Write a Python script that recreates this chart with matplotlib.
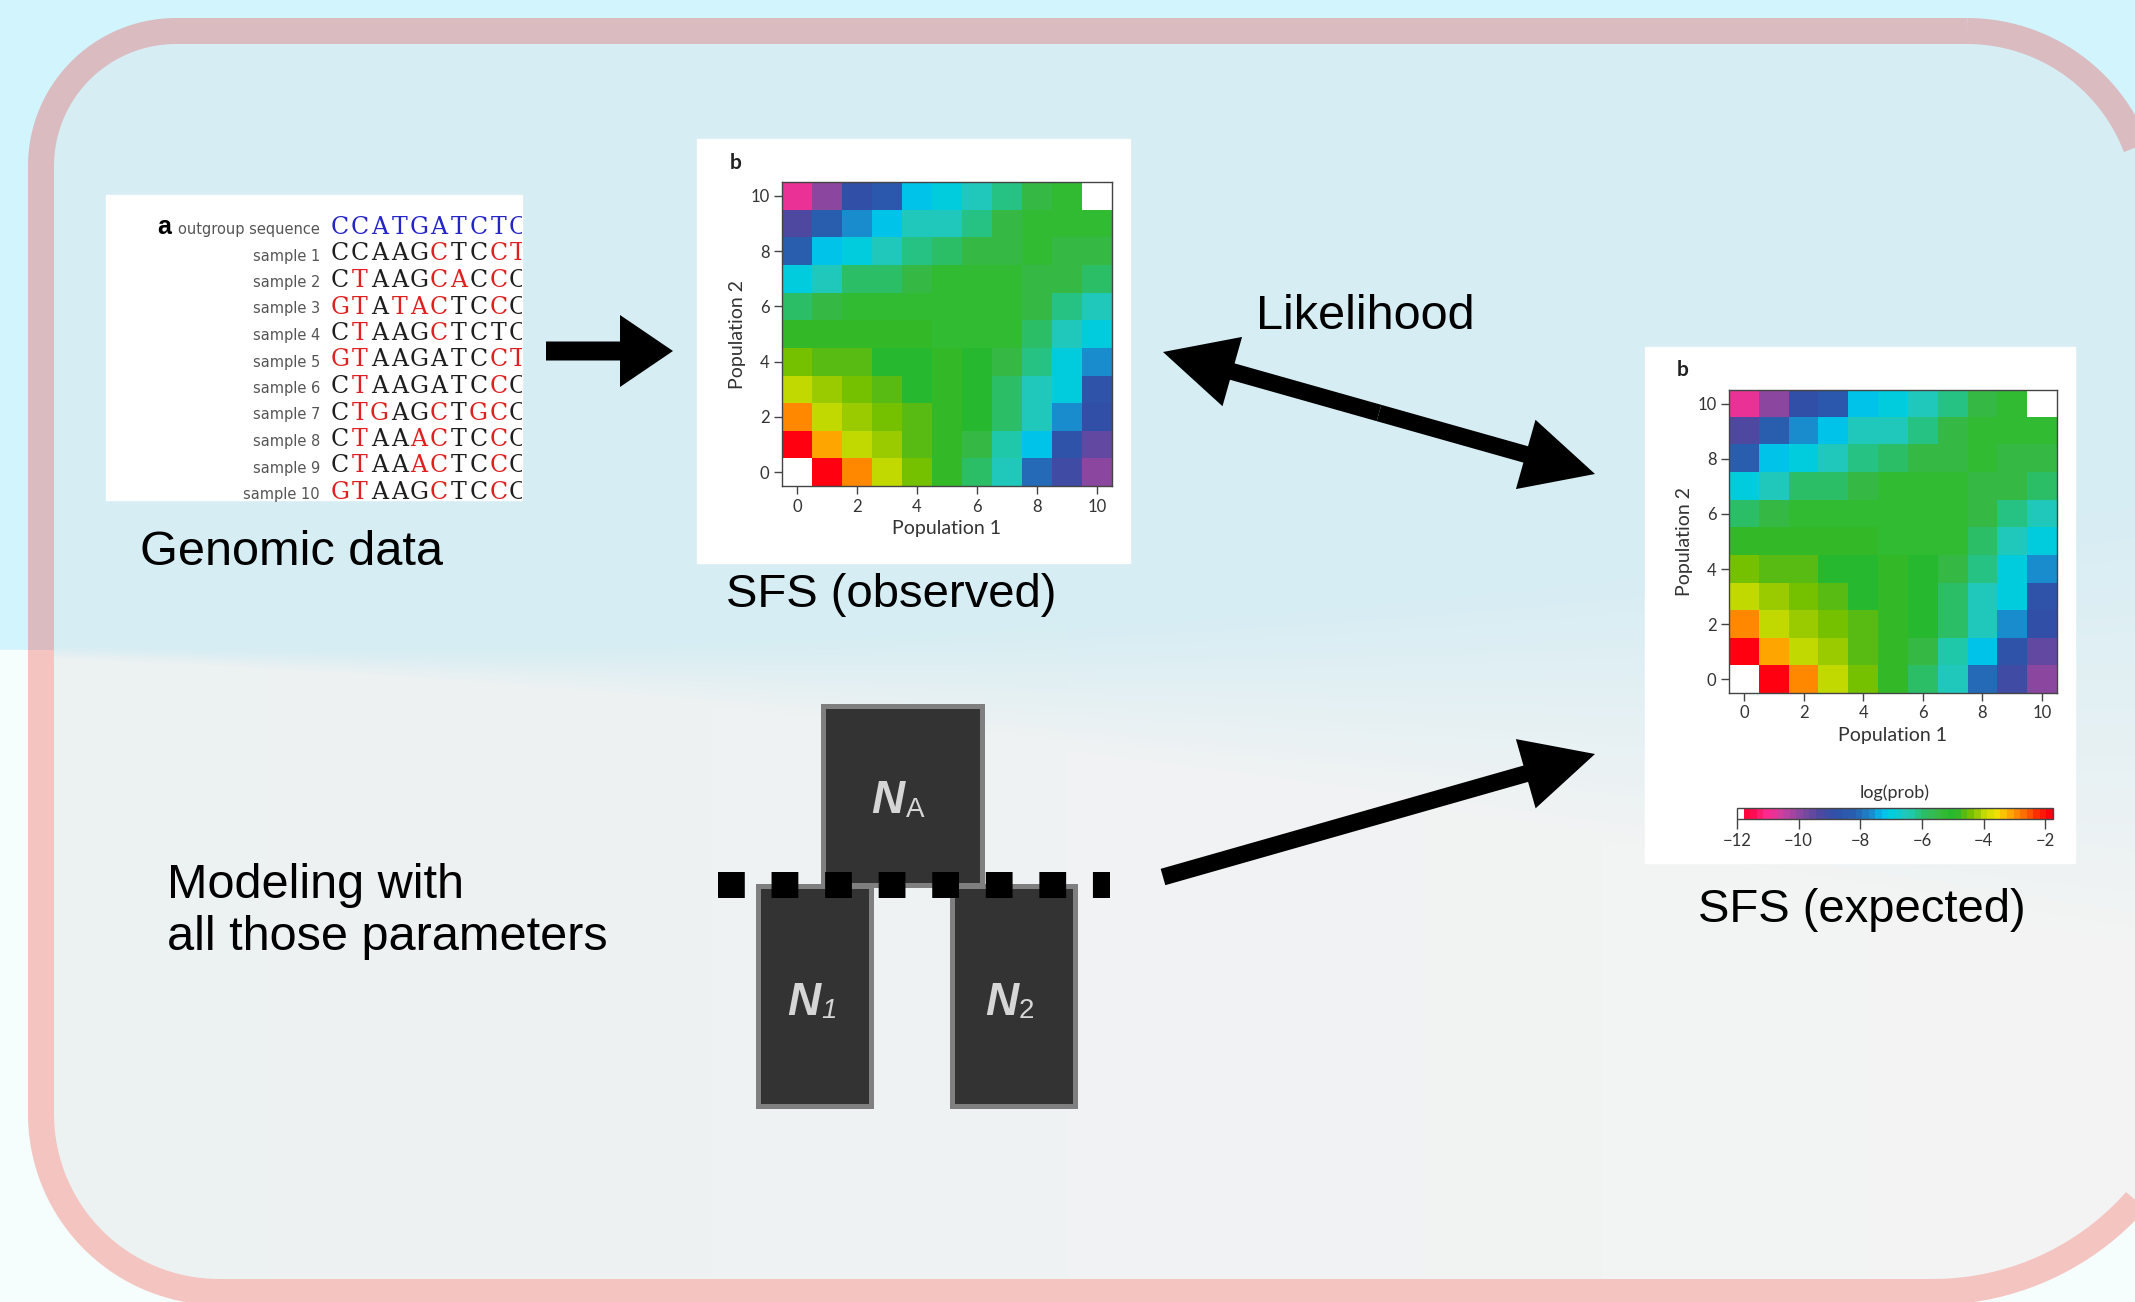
import numpy as np
import matplotlib
matplotlib.use("Agg")
import matplotlib.pyplot as plt
from matplotlib.colors import LinearSegmentedColormap
from matplotlib.patches import Rectangle, FancyArrow, PathPatch
from matplotlib.path import Path

W, H = 2135, 1302
PX = 72 / 100  # pixel -> point

plt.rcParams['font.family'] = ['Lato', 'DejaVu Sans']

# ---------------- data ----------------
outgroup = "CCATGATCTCC"
sample_names = ["sample %d" % i for i in range(1, 11)]
sample_seqs = ["CCAAGCTCCT", "CTAAGCACCC", "GTATACTCCC", "CTAAGCTCTC", "GTAAGATCCT",
               "CTAAGATCCC", "CTGAGCTGCC", "CTAAACTCCC", "CTAAACTCCC", "GTAAGCTCCC"]
# r = derived allele drawn in red
sample_red = [".....r..rr", ".r...rr.r.", "rr.rrr..r.", ".r...r....", "rr......rr",
              ".r......r.", ".rr..r.rr.", ".r..rr..r.", ".r..rr..r.", "rr...r..r."]

pop_ticks = [0, 2, 4, 6, 8, 10]
cbar_ticks = [-12, -10, -8, -6, -4, -2]
nan = np.nan
# log(prob), rows from Population 2 = 10 (top) down to 0, columns Population 1 = 0..10
sfs_rows = [
    [-10.8, -9.9, -8.9, -8.4, -7.3, -6.9, -6.6, -6.2, -5.5, -5.2, nan],
    [-9.4, -8.3, -7.6, -7.3, -6.6, -6.5, -6.2, -5.5, -5.2, -5.2, -5.2],
    [-8.3, -7.3, -6.9, -6.5, -6.2, -6.0, -5.5, -5.5, -5.2, -5.5, -5.5],
    [-6.9, -6.5, -6.0, -6.0, -5.5, -5.2, -5.2, -5.2, -5.4, -5.4, -6.0],
    [-6.0, -5.5, -5.2, -5.2, -5.2, -5.2, -5.2, -5.2, -5.4, -6.2, -6.6],
    [-4.9, -4.9, -4.9, -4.9, -4.9, -5.2, -5.2, -5.2, -6.0, -6.5, -6.9],
    [-4.4, -4.7, -4.7, -5.0, -5.0, -4.9, -5.0, -5.5, -6.2, -6.9, -7.6],
    [-3.9, -4.2, -4.4, -4.7, -5.0, -4.9, -5.0, -6.0, -6.5, -6.9, -8.7],
    [-2.9, -3.9, -4.2, -4.4, -4.7, -4.9, -5.0, -6.0, -6.6, -7.6, -8.9],
    [-1.9, -3.2, -3.9, -4.2, -4.6, -4.9, -5.5, -6.4, -7.3, -8.7, -9.6],
    [nan, -1.9, -2.9, -3.9, -4.4, -4.9, -6.0, -6.6, -8.0, -9.2, -10.0],
]
sfs_observed = np.array(sfs_rows[::-1])
sfs_expected = np.array(sfs_rows[::-1])

# colour scale of log(prob)
vmin, vmax = -12.0, -1.75
cmap_values = [-11.78, -11.1, -10.6, -10.0, -9.4, -8.9, -8.2, -7.6, -7.3, -6.9, -6.6,
               -6.3, -6.0, -5.5, -5.2, -4.9, -4.7, -4.4, -4.2, -3.9, -3.5, -3.2, -2.9,
               -2.5, -2.2, -1.75]
cmap_colors = ["#ff0038", "#ff2a90", "#c840a0", "#8848a0", "#5048a0", "#3050a8", "#2860b0",
               "#1890d0", "#00c0f0", "#00d0d8", "#20c8c0", "#20c8a8", "#28c070", "#38b848",
               "#30bc30", "#20b830", "#48b820", "#70c000", "#90c800", "#c8dc00", "#f0e000",
               "#ffb800", "#ff9000", "#ff6000", "#ff3000", "#ff0010"]

anchors = [(0.0, "white"), (0.015, "white")]
anchors += [((v - vmin) / (vmax - vmin), c) for v, c in zip(cmap_values, cmap_colors)]
cmap = LinearSegmentedColormap.from_list("logprob", anchors, N=48)
cmap.set_bad("white")


def frac(x0, y0, x1, y1):
    return [x0 / W, 1 - y1 / H, (x1 - x0) / W, (y1 - y0) / H]


fig = plt.figure(figsize=(W / 100, H / 100), dpi=100)
bg = fig.add_axes([0, 0, 1, 1])
bg.set_xlim(0, W)
bg.set_ylim(H, 0)
bg.axis("off")

# ---- background ----
bg.add_patch(Rectangle((0, 0), W, 650, color="#d2f4fc", zorder=0))
bg.add_patch(Rectangle((0, 650), W, H - 650, color="#f5fdfd", zorder=0))


def rounded_path(x0, y0, x1_top, x1_bot, y1, r_tl, r_tr, r_br, r_bl, n=40):
    pts = []

    def arc(cx, cy, r, a0, a1):
        a = np.radians(np.linspace(a0, a1, n))
        pts.extend(zip(cx + r * np.cos(a), cy + r * np.sin(a)))

    arc(x1_top - r_tr, y0 + r_tr, r_tr, -90, 0)
    arc(x1_bot - r_br, y1 - r_br, r_br, 0, 90)
    arc(x0 + r_bl, y1 - r_bl, r_bl, 90, 180)
    arc(x0 + r_tl, y0 + r_tl, r_tl, 180, 270)
    pts.append(pts[0])
    return Path(np.array(pts), closed=True)


frame = rounded_path(41, 31, 2148, 2204, 1292, 135, 181, 271, 178)
inner = PathPatch(frame, facecolor="none", edgecolor="none", transform=bg.transData)
bg.add_patch(inner)

yy, xx = np.mgrid[0:H, 0:W].astype(float)
y0 = 650 + 0.035 * xx
wid = 12 + 0.0001 * xx ** 2
t = np.clip((yy - y0) / wid + 0.5, 0, 1)[..., None]
top_c = np.array([214, 237, 243]) / 255
bot_l = np.array([236, 241, 242]) / 255
bot_r = np.array([244, 244, 244]) / 255
bot_c = bot_l + (bot_r - bot_l) * (xx / W)[..., None]
img = top_c * (1 - t) + bot_c * t
bgimg = bg.imshow(img, extent=(0, W, H, 0), zorder=1, interpolation="nearest")
bgimg.set_clip_path(inner)

for ylo, yhi, col in [(0, 650, "#dabbc0"), (650, H, "#f4c4c0")]:
    b = PathPatch(frame, facecolor="none", edgecolor=col, lw=26 * PX, zorder=2)
    bg.add_patch(b)
    b.set_clip_path(Rectangle((0, ylo), W, yhi - ylo, transform=bg.transData))

# white panels
for (x0, y0_, x1, y1) in [(106, 195, 522, 500), (697, 139, 1130, 563), (1645, 347, 2075, 863)]:
    bg.add_patch(Rectangle((x0, y0_), x1 - x0, y1 - y0_, color="white", zorder=3))

# ---- panel a: sequences ----
ax_seq = fig.add_axes(frac(106, 195, 522, 500))
ax_seq.set_xlim(106, 522)
ax_seq.set_ylim(500, 195)
ax_seq.set_xticks([])
ax_seq.set_yticks([])
for s in ax_seq.spines.values():
    s.set_visible(False)

row_y0, row_dy = 234, 26.5
ch_x0, ch_dx = 330, 19.8
ax_seq.text(157, row_y0, "a", fontsize=18, fontweight="bold", family="Liberation Sans",
            color="black", va="baseline")
ax_seq.text(320, row_y0, "outgroup sequence", fontsize=10.5, family="DejaVu Sans",
            color="#555555", ha="right", va="baseline")
for i, ch in enumerate(outgroup):
    ax_seq.text(ch_x0 + ch_dx * (i + 0.5), row_y0, ch, fontsize=17, family="DejaVu Serif",
                color="#2424c8", ha="center", va="baseline", clip_on=True)
for k, (name, seq, red) in enumerate(zip(sample_names, sample_seqs, sample_red)):
    y = row_y0 + row_dy * (k + 1)
    ax_seq.text(320, y, name, fontsize=10.5, family="DejaVu Sans", color="#555555",
                ha="right", va="baseline")
    for i, ch in enumerate(seq):
        ax_seq.text(ch_x0 + ch_dx * (i + 0.5), y, ch, fontsize=17, family="DejaVu Serif",
                    color="#e02020" if red[i] == "r" else "#1e1e1e",
                    ha="center", va="baseline", clip_on=True)


# ---- SFS heatmaps ----
def sfs_axes(rect, data, b_xy):
    ax = fig.add_axes(frac(*rect))
    im = ax.imshow(data, origin="lower", cmap=cmap, vmin=vmin, vmax=vmax,
                   aspect="auto", interpolation="nearest")
    ax.set_xticks(pop_ticks)
    ax.set_yticks(pop_ticks)
    ax.tick_params(direction="out", length=6, width=1, color="#444444",
                   labelsize=12, labelcolor="#333333", pad=3)
    for s in ax.spines.values():
        s.set_color("#444444")
        s.set_linewidth(1.0)
    ax.set_xlabel("Population 1", fontsize=14, color="#333333", labelpad=4)
    ax.set_ylabel("Population 2", fontsize=14, color="#333333", labelpad=3)
    bg.text(b_xy[0], b_xy[1], "b", fontsize=15, fontweight="bold", color="#222222",
            va="center", zorder=4)
    return im


sfs_axes((782, 182, 1112, 486), sfs_observed, (730, 163))
im2 = sfs_axes((1729, 390, 2057, 693), sfs_expected, (1677, 370))

cax = fig.add_axes(frac(1737, 808, 2053, 819))
cb = fig.colorbar(im2, cax=cax, orientation="horizontal", ticks=cbar_ticks)
cb.outline.set_edgecolor("#444444")
cb.outline.set_linewidth(1.0)
cax.tick_params(direction="out", length=7, width=1, color="#444444",
                labelsize=12, labelcolor="#333333", pad=3)
cax.set_title("log(prob)", fontsize=13, color="#333333", pad=7)

# ---- arrows ----
bg.add_patch(FancyArrow(546, 351, 127, 0, width=19, head_width=72, head_length=53,
                        length_includes_head=True, color="black", lw=0, zorder=4))
lk_a, lk_b = np.array([1163, 352]), np.array([1595, 474])
mid = (lk_a + lk_b) / 2
for tip in (lk_a, lk_b):
    d = tip - mid
    bg.add_patch(FancyArrow(mid[0], mid[1], d[0], d[1], width=17, head_width=72,
                            head_length=72, length_includes_head=True, color="black",
                            lw=0, zorder=4))
bg.add_patch(FancyArrow(1163, 877, 432, -123, width=17, head_width=72, head_length=72,
                        length_includes_head=True, color="black", lw=0, zorder=4))

# ---- population model boxes ----
box_kw = dict(facecolor="#333333", edgecolor="#7f7f7f", lw=5 * PX)
bg.add_patch(Rectangle((757.5, 885.5), 113, 220, zorder=4, **box_kw))
bg.add_patch(Rectangle((951.5, 885.5), 123, 220, zorder=4, **box_kw))
bg.add_patch(Rectangle((822.5, 705.5), 159, 179, zorder=5, **box_kw))
bg.plot([718, 1110], [885, 885], color="black", lw=26 * PX, dashes=(1.03, 1.03),
        dash_capstyle="butt", zorder=6)

lab_kw = dict(family="Liberation Sans", color="#d6d6d6", va="baseline", zorder=7)
bg.text(904, 813, "N", fontsize=33, style="italic", fontweight="bold", ha="right", **lab_kw)
bg.text(906, 817, "A", fontsize=20, ha="left", **lab_kw)
bg.text(820, 1015, "N", fontsize=33, style="italic", fontweight="bold", ha="right", **lab_kw)
bg.text(821, 1018, "1", fontsize=20, style="italic", ha="left", **lab_kw)
bg.text(1018, 1015, "N", fontsize=33, style="italic", fontweight="bold", ha="right", **lab_kw)
bg.text(1019, 1018, "2", fontsize=20, ha="left", **lab_kw)

# ---- captions ----
cap_kw = dict(family="Liberation Sans", color="black", va="baseline", zorder=7)
bg.text(140, 565, "Genomic data", fontsize=35, **cap_kw)
bg.text(726, 607, "SFS (observed)", fontsize=34, **cap_kw)
bg.text(1256, 329, "Likelihood", fontsize=35, **cap_kw)
bg.text(1698, 922, "SFS (expected)", fontsize=34, **cap_kw)
bg.text(167, 898, "Modeling with", fontsize=35, **cap_kw)
bg.text(167, 950, "all those parameters", fontsize=35, **cap_kw)

fig.savefig("out.png", dpi=100)
